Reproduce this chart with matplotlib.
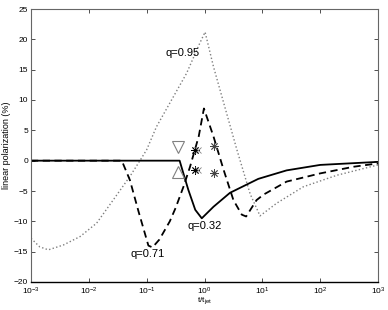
import numpy as np
import matplotlib
matplotlib.use("Agg")
import matplotlib.pyplot as plt

plt.rcParams['font.family'] = ['Liberation Sans', 'DejaVu Sans']
plt.rcParams['mathtext.fontset'] = 'custom'
plt.rcParams['mathtext.rm'] = 'Liberation Sans'

# log10(t/t_jet) and polarization (%) for each curve
logt_q032 = [-3.0, -0.43, -0.365, -0.28, -0.16, -0.047, 0.155, 0.44, 0.93, 1.42, 2.0, 3.0]
pol_q032 = [0.0, 0.0, -2.1, -4.8, -8.1, -9.5, -7.6, -5.3, -3.0, -1.6, -0.7, -0.2]

logt_q071 = [-3.0, -1.43, -1.29, -1.14, -0.97, -0.90, -0.78, -0.60, -0.50, -0.36, -0.25, -0.10, -0.01,
             0.155, 0.33, 0.50, 0.645, 0.72, 0.90, 1.02, 1.42, 2.0, 2.58, 3.0]
pol_q071 = [0.0, 0.0, -3.2, -8.4, -14.0, -14.3, -13.0, -10.0, -7.8, -4.2, -1.0, 4.0, 8.6,
            4.0, -1.5, -6.5, -8.9, -9.2, -6.5, -5.6, -3.45, -2.1, -1.0, -0.45]

logt_q095 = [-3.0, -2.85, -2.70, -2.44, -2.15, -1.865, -1.58, -1.29, -1.11, -1.0, -0.83, -0.31, -0.08, 0.01,
             0.155, 0.56, 0.79, 0.96, 1.25, 1.71, 2.29, 3.0]
pol_q095 = [-12.8, -14.2, -14.7, -13.9, -12.5, -10.3, -6.5, -2.6, 0.1, 1.8, 5.6, 14.4, 19.4, 21.2,
            15.5, 1.8, -5.5, -9.1, -7.0, -4.3, -2.4, -0.7]

# observed data points
logt_tri = [-0.45, -0.45]
pol_tri_down = [2.3]
pol_tri_up = [-1.8]
logt_star = [-0.16, -0.16, 0.17, 0.17]
pol_star = [1.8, -1.5, 2.4, -2.0]

labels = ["q=0.95", "q=0.71", "q=0.32"]

fig = plt.figure(figsize=(3.88, 3.10), dpi=100)
ax = fig.add_axes([31/388, 28/310, 347/388, 273/310])

t = lambda a: 10 ** np.asarray(a)
ax.plot(t(logt_q095), pol_q095, linestyle=':', color='#7f7f7f', lw=1.0)
ax.plot(t(logt_q071), pol_q071, linestyle=(0, (4, 2.5)), color='black', lw=1.3)
ax.plot(t(logt_q032), pol_q032, linestyle='-', color='black', lw=1.3)

ax.plot(t(logt_tri[:1]), pol_tri_down, linestyle='none', marker='v', mfc='none', mec='#808080', ms=8, mew=0.8)
ax.plot(t(logt_tri[1:]), pol_tri_up, linestyle='none', marker='^', mfc='none', mec='#808080', ms=8, mew=0.8)
ax.plot(t(logt_star[:2]), pol_star[:2], linestyle='none', marker=(8, 2, 0), color='black', ms=6, mew=0.6)
ax.plot(t(logt_star[2:]), pol_star[2:], linestyle='none', marker=(8, 2, 0), color='#444444', ms=6, mew=0.6)
ax.plot(t(np.array(logt_star[:2]) + 0.04), pol_star[:2], linestyle='none', marker='x', color='#808080', ms=5, mew=0.6)

ax.text(10 ** -0.08, 17.7, labels[0], ha='right', va='center', fontsize=8)
ax.text(10 ** -0.98, -15.4, labels[1], ha='center', va='center', fontsize=8)
ax.text(10 ** 0.0, -10.8, labels[2], ha='center', va='center', fontsize=8)

ax.set_xscale('log')
ax.set_xlim(1e-3, 1e3)
ax.set_ylim(-20, 25)
ax.set_xticks([1e-3, 1e-2, 1e-1, 1e0, 1e1, 1e2, 1e3])
ax.minorticks_off()
ax.set_yticks(np.arange(-20, 26, 5))
ax.set_yticklabels([str(v).replace('-', '\u2212') for v in np.arange(-20, 26, 5)])
ax.tick_params(direction='in', top=True, right=True, length=3, width=0.6, labelsize=6, pad=2,
               colors='#333333', labelcolor='black')
ax.tick_params(axis='x', pad=3)

for side in ['top', 'right', 'left']:
    ax.spines[side].set_color('#666666')
    ax.spines[side].set_linewidth(0.8)
ax.spines['bottom'].set_color('black')
ax.spines['bottom'].set_linewidth(1.0)

ax.set_ylabel('linear polarization (%)', fontsize=6.5, labelpad=2)
ax.set_xlabel('t/t$_{\\rm jet}$', fontsize=6, labelpad=-1)

fig.savefig('out.png', dpi=100)
